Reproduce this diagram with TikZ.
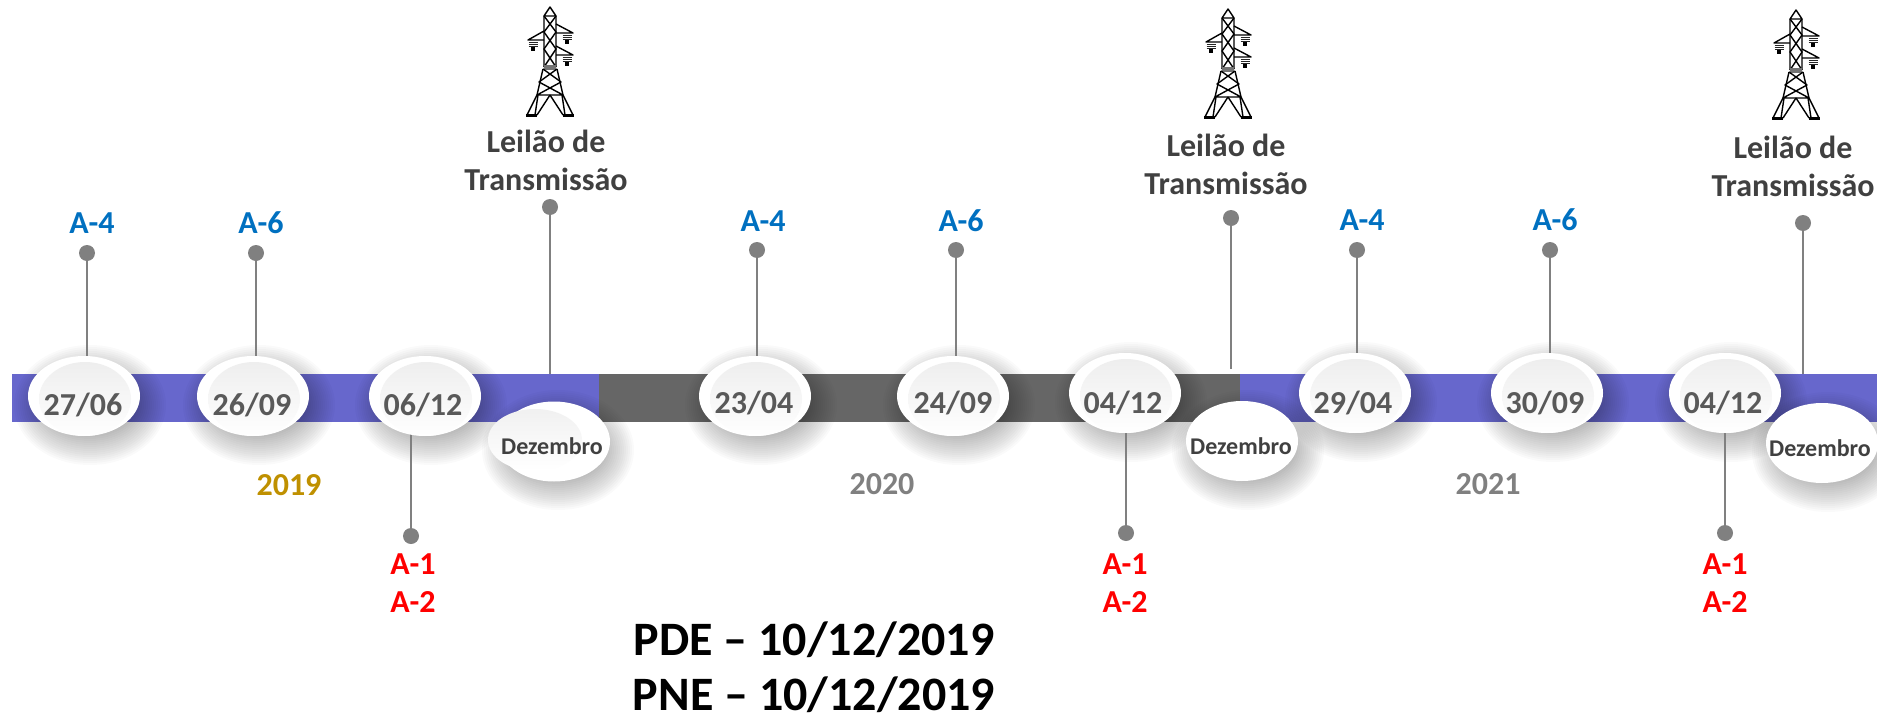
\documentclass[tikz,border=0pt]{standalone}
\usepackage{fontspec}
\usetikzlibrary{shapes.geometric}
\setmainfont{Carlito}
\pgfdeclarelayer{shad}
\pgfdeclarelayer{conn}
\pgfdeclarelayer{barlay}
\pgfsetlayers{barlay,shad,conn,main}
\definecolor{barpurple}{HTML}{6767CC}
\definecolor{bargray}{HTML}{666666}
\definecolor{linegray}{HTML}{808080}
\definecolor{datetxt}{HTML}{595959}
\definecolor{darktxt}{HTML}{404040}
\definecolor{bluetxt}{HTML}{0070C0}
\definecolor{goldtxt}{HTML}{BF9000}
\definecolor{shadecol}{HTML}{EEEEEE}
\tikzset{
  barseg/.style={rectangle,inner sep=0pt,minimum height=48pt,anchor=west},
  bubble/.style={ellipse,fill=white,inner sep=0pt,minimum width=112pt,minimum height=80pt},
  pin/.style={circle,fill=linegray,inner sep=0pt,minimum size=16pt},
  conline/.style={draw=linegray,line width=2.8pt},
  datelabel/.style={inner sep=0pt,text=datetxt,font=\fontsize{32}{38}\selectfont\bfseries},
  declabel/.style={inner sep=0pt,text=darktxt,font=\fontsize{24}{28}\selectfont\bfseries},
  leilao/.style={inner sep=0pt,align=center,text=darktxt,font=\fontsize{32}{38}\selectfont\bfseries},
  bluelabel/.style={inner sep=0pt,text=bluetxt,font=\fontsize{32}{38}\selectfont\bfseries},
  redlabel/.style={inner sep=0pt,align=center,text=red,font=\fontsize{32}{38}\selectfont\bfseries},
  yearlabel/.style={inner sep=0pt,font=\fontsize{32}{38}\selectfont\bfseries},
  bigline/.style={inner sep=0pt,text=black,font=\fontsize{48}{54}\selectfont\bfseries},
  towerline/.style={draw=black,line width=1.4pt,line join=round}
}
% soft shadow around a bubble, pushed down and to the right
\newcommand{\softshadow}[2]{%
  \begin{pgfonlayer}{shad}
  \foreach \d in {-16,-14,...,20}{
    \fill[black,opacity=0.021] ({#1+6},{#2+9}) ellipse ({56+\d} and {40+\d});
  }
  \end{pgfonlayer}}
% bubble: name, x, y
\newcommand{\datebubble}[3]{%
  \softshadow{#2}{#3}
  \node[bubble] (#1) at (#2,#3) {};
  \shade[top color=shadecol,bottom color=white] ({#2+1},{#3+3}) ellipse (46 and 37);}
\newcommand{\tower}[2]{%
 \begin{scope}[shift={(#1,#2)}]
  \draw[towerline] (-6,60) -- (-6,9) -- (0,0) -- (6,9) -- (6,60) (-6,9) -- (6,9);
  \draw[towerline] (-6,9) -- (6,25) -- (-6,42) -- (6,60) (6,9) -- (-6,25) -- (6,42) -- (-6,60);
  \fill[black!55] (-6,58) rectangle (6,63);
  \draw[towerline] (-7,62) -- (-13,88) -- (-23,108) (7,62) -- (13,88) -- (23,108);
  \draw[towerline] (-7,62) -- (11,75) -- (-13,88) (7,62) -- (-11,75) -- (13,88) (-13,88) -- (13,88);
  \draw[towerline] (-12,88) -- (-15,108) (0,88) -- (-13,108) (0,88) -- (13,108) (12,88) -- (15,108);
  \draw[line width=2.6pt,black] (-24,108.5) -- (-13,108.5) (13,108.5) -- (24,108.5);
  \draw[towerline] (6,17) -- (23,26) -- (6,26);
  \draw[towerline] (-6,24) -- (-22,33) -- (-6,33);
  \draw[towerline] (6,39) -- (23,48) -- (6,48);
  \foreach \ix/\iy in {17/27,-17/34,17/49}{
    \fill[black] ({\ix-2},{\iy+6}) rectangle ({\ix+2},{\iy+10});
    \foreach \k in {1,3.2,5.4}{\draw[black!85,line width=.9pt] ({\ix-4.5},{\iy+\k}) -- ({\ix+4.5},{\iy+\k});}
  }
 \end{scope}}
\begin{document}
\begin{tikzpicture}[x=1pt,y=-1pt]
\useasboundingbox (0,0) rectangle (1877,720);
\begin{pgfonlayer}{barlay}
\node[barseg,fill=barpurple,minimum width=587pt] (barA) at (12,398) {};
\node[barseg,fill=bargray,minimum width=641pt] (barB) at (599,398) {};
\node[barseg,fill=barpurple,minimum width=637pt] (barC) at (1240,398) {};
\end{pgfonlayer}
% date bubbles
\datebubble{d1}{84}{396}
\datebubble{d2}{253}{396}
\datebubble{d3}{425}{396}
\datebubble{d4}{755}{396}
\datebubble{d5}{953}{396}
\datebubble{d6}{1125}{393}
\datebubble{d7}{1355}{393}
\datebubble{d8}{1547}{393}
\datebubble{d9}{1725}{393}
% December bubbles
\softshadow{552}{441}
\node[bubble] (m1) at (554,441.5) {};
\shade[top color=shadecol!85!white,bottom color=white] (535,440) ellipse (47 and 31);
\softshadow{1242}{441}
\node[bubble] (m2) at (1242,441) {};
\softshadow{1822}{443}
\node[bubble] (m3) at (1822,443) {};
% date texts
\node[datelabel] (t1) at (83,405) {27/06};
\node[datelabel] (t2) at (252,405) {26/09};
\node[datelabel] (t3) at (423,405) {06/12};
\node[datelabel] (t4) at (754,403) {23/04};
\node[datelabel] (t5) at (953,403) {24/09};
\node[datelabel] (t6) at (1123,403) {04/12};
\node[datelabel] (t7) at (1353,403) {29/04};
\node[datelabel] (t8) at (1545,403) {30/09};
\node[datelabel] (t9) at (1723,403) {04/12};
\node[declabel] (dz1) at (552,446) {Dezembro};
\node[declabel] (dz2) at (1241,446) {Dezembro};
\node[declabel] (dz3) at (1820,448) {Dezembro};
% pins
\node[pin] (p1) at (87,253) {};
\node[pin] (p2) at (256,253) {};
\node[pin] (p3) at (411,536) {};
\node[pin] (p4) at (550,207) {};
\node[pin] (p5) at (757,250) {};
\node[pin] (p6) at (956,250) {};
\node[pin] (p7) at (1126,533) {};
\node[pin] (p8) at (1231,218) {};
\node[pin] (p9) at (1357,250) {};
\node[pin] (p10) at (1550,250) {};
\node[pin] (p11) at (1725,533) {};
\node[pin] (p12) at (1803,223) {};
\coordinate (e8) at (1231,369);
% connectors
\begin{pgfonlayer}{conn}
\draw[conline] (p1) -- (p1 |- d1.center);
\draw[conline] (p2) -- (p2 |- d2.center);
\draw[conline] (p3) -- (p3 |- d3.center);
\draw[conline] (p4) -- (p4 |- barA.north);
\draw[conline] (p5) -- (p5 |- d4.center);
\draw[conline] (p6) -- (p6 |- d5.center);
\draw[conline] (p7) -- (p7 |- d6.center);
\draw[conline] (p8) -- (e8);
\draw[conline] (p9) -- (p9 |- d7.center);
\draw[conline] (p10) -- (p10 |- d8.center);
\draw[conline] (p11) -- (p11 |- d9.center);
\draw[conline] (p12) -- (p12 |- barC.north);
\end{pgfonlayer}
% labels
\node[bluelabel] (a1) at (92,223) {A-4};
\node[bluelabel] (a2) at (261,223) {A-6};
\node[bluelabel] (a3) at (763,221) {A-4};
\node[bluelabel] (a4) at (961,221) {A-6};
\node[bluelabel] (a5) at (1362,220) {A-4};
\node[bluelabel] (a6) at (1555,220) {A-6};
\node[redlabel] (r1) at (413,583) {A-1\\A-2};
\node[redlabel] (r2) at (1125,583) {A-1\\A-2};
\node[redlabel] (r3) at (1725,583) {A-1\\A-2};
\node[leilao] (l1) at (546,160) {Leilão de\\Transmissão};
\node[leilao] (l2) at (1226,164) {Leilão de\\Transmissão};
\node[leilao] (l3) at (1793,166) {Leilão de\\Transmissão};
\node[yearlabel,text=goldtxt] (y1) at (289,485) {2019};
\node[yearlabel,text=linegray] (y2) at (882,484) {2020};
\node[yearlabel,text=linegray] (y3) at (1488,484) {2021};
\node[bigline] (pde) at (814,640) {PDE – 10/12/2019};
\node[bigline] (pne) at (814,695) {PNE – 10/12/2019};
% towers
\tower{550}{7}
\tower{1228}{9}
\tower{1796}{10}
\end{tikzpicture}
\end{document}
